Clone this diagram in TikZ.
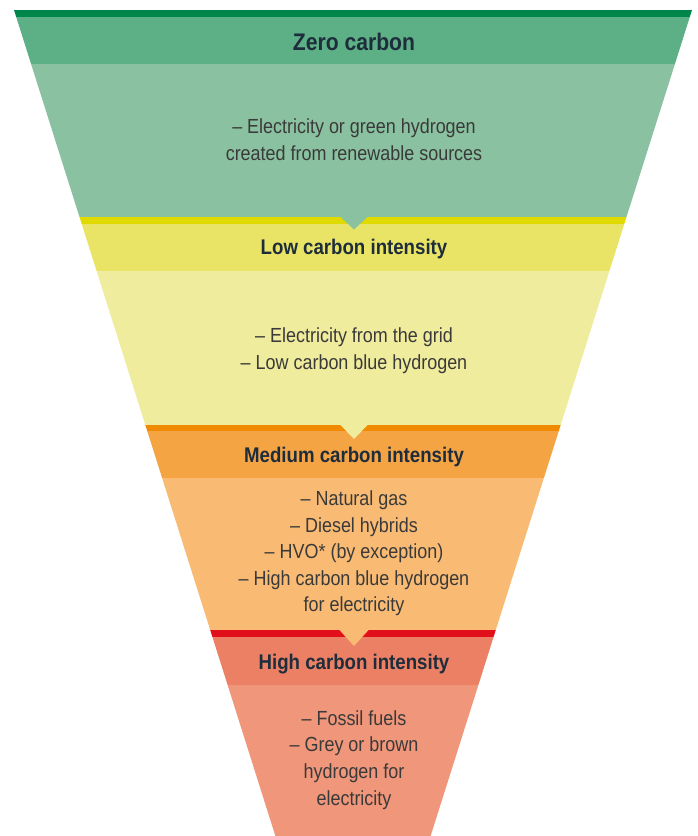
\documentclass[tikz,border=0pt]{standalone}
\usepackage{fontspec}
\setmainfont[FakeStretch=0.88]{Liberation Sans}
\definecolor{cGbar}{HTML}{00854A}
\definecolor{cGhead}{HTML}{5DAF86}
\definecolor{cGbody}{HTML}{8AC1A0}
\definecolor{cYbar}{HTML}{E0DA00}
\definecolor{cYhead}{HTML}{E9E465}
\definecolor{cYbody}{HTML}{F0EC9D}
\definecolor{cObar}{HTML}{F08A00}
\definecolor{cOhead}{HTML}{F5A444}
\definecolor{cObody}{HTML}{F9BB74}
\definecolor{cRbar}{HTML}{E2101A}
\definecolor{cRhead}{HTML}{EC8064}
\definecolor{cRbody}{HTML}{F0967A}
\definecolor{headtxt}{HTML}{1E2D3B}
\definecolor{bodytxt}{HTML}{3A3A3A}
\tikzset{
  headtext/.style={font=\fontsize{21.2}{24}\selectfont\bfseries, text=headtxt, inner sep=0pt, anchor=center},
  bigheadtext/.style={font=\fontsize{24}{28}\selectfont\bfseries, text=headtxt, inner sep=0pt, anchor=center},
  bodytext/.style={font=\fontsize{20.4}{26.6}\selectfont, text=bodytxt, align=center, inner sep=0pt, anchor=center},
}
\begin{document}
\begin{tikzpicture}[x=1pt,y=-1pt]
\useasboundingbox (0,0) rectangle (697,836);
\begin{scope}
\clip (14,10) -- (692,10) -- (430.6,836) -- (275.4,836) -- cycle;
% zero carbon
\fill[cGbar] (0,10) rectangle (697,16.5);
\fill[cGhead] (0,16.5) rectangle (697,64);
\fill[cGbody] (0,64) rectangle (697,217);
% low
\fill[cYbar] (0,217) rectangle (697,223.5);
\fill[cYhead] (0,223.5) rectangle (697,271);
\fill[cYbody] (0,271) rectangle (697,425);
% medium
\fill[cObar] (0,425) rectangle (697,431);
\fill[cOhead] (0,431) rectangle (697,478);
\fill[cObody] (0,478) rectangle (697,630);
% high
\fill[cRbar] (0,630) rectangle (697,637);
\fill[cRhead] (0,637) rectangle (697,685);
\fill[cRbody] (0,685) rectangle (697,836);
% notches
\fill[cGbody] (340,216.5) -- (368,216.5) -- (354,229.5) -- cycle;
\fill[cYbody] (340,424.5) -- (368,424.5) -- (354,439) -- cycle;
\fill[cObody] (339,629.5) -- (369,629.5) -- (354,646) -- cycle;
\end{scope}
\node[bigheadtext] (h1) at (354,41.5) {Zero carbon};
\node[bodytext] (b1) at (354,139.5) {– Electricity or green hydrogen\\created from renewable sources};
\node[headtext] (h2) at (354,249) {Low carbon intensity};
\node[bodytext] (b2) at (354,350.5) {– Electricity from the grid\\– Low carbon blue hydrogen};
\node[headtext] (h3) at (354,457) {Medium carbon intensity};
\node[bodytext] (b3) at (354,553.5) {– Natural gas\\– Diesel hybrids\\– HVO* (by exception)\\– High carbon blue hydrogen\\for electricity};
\node[headtext] (h4) at (354,664) {High carbon intensity};
\node[bodytext] (b4) at (354,760) {– Fossil fuels\\– Grey or brown\\hydrogen for\\electricity};
\end{tikzpicture}
\end{document}
